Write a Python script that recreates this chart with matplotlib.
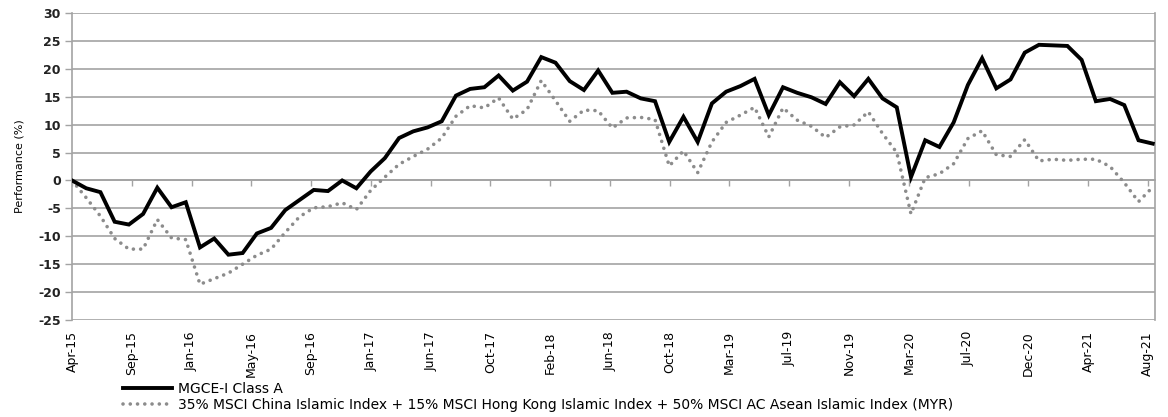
import matplotlib
matplotlib.use("Agg")
import matplotlib.pyplot as plt
import numpy as np

plt.rcParams['axes.unicode_minus'] = False

tick_labels = ['Apr-15', 'Sep-15', 'Jan-16', 'May-16', 'Sep-16', 'Jan-17', 'Jun-17',
               'Oct-17', 'Feb-18', 'Jun-18', 'Oct-18', 'Mar-19', 'Jul-19', 'Nov-19',
               'Mar-20', 'Jul-20', 'Dec-20', 'Apr-21', 'Aug-21']

fund = [0.0, -1.4, -2.1, -7.4, -7.9, -6.0, -1.3, -4.8, -3.9, -12.0,
        -10.4, -13.3, -13.0, -9.5, -8.5, -5.3, -3.5, -1.7, -1.9, 0.0,
        -1.4, 1.6, 4.0, 7.6, 8.8, 9.5, 10.6, 15.2, 16.4, 16.7,
        18.8, 16.1, 17.7, 22.1, 21.1, 17.8, 16.2, 19.7, 15.7, 15.9,
        14.7, 14.2, 6.9, 11.4, 6.9, 13.8, 15.9, 16.9, 18.2, 11.7,
        16.7, 15.7, 14.9, 13.7, 17.6, 15.1, 18.2, 14.7, 13.1, 0.6,
        7.2, 6.0, 10.4, 17.1, 21.9, 16.5, 18.1, 22.9, 24.3, 24.2,
        24.1, 21.6, 14.2, 14.6, 13.5, 7.2, 6.6]

bench = [0.0, -3.1, -6.4, -10.4, -12.3, -12.3, -7.0, -10.3, -10.6, -18.6,
         -17.6, -16.6, -15.0, -13.4, -12.3, -9.3, -6.5, -4.9, -4.7, -4.0,
         -5.2, -1.8, 0.6, 2.9, 4.3, 5.6, 7.6, 11.5, 13.4, 13.0,
         14.8, 11.0, 12.7, 17.9, 14.3, 10.6, 12.6, 12.5, 9.4, 11.2,
         11.3, 10.9, 2.6, 5.3, 1.4, 6.9, 10.4, 11.7, 13.1, 7.8,
         13.0, 10.8, 9.7, 7.7, 9.6, 9.95, 12.3, 8.4, 5.0, -6.0,
         0.5, 1.2, 3.0, 7.5, 8.9, 4.6, 4.3, 7.3, 3.5, 3.8,
         3.6, 3.8, 3.8, 2.5, -0.4, -3.8, -1.2]

fund_label = 'MGCE-I Class A'
bench_label = ('35% MSCI China Islamic Index + 15% MSCI Hong Kong Islamic Index + '
               '50% MSCI AC Asean Islamic Index (MYR)')

x = np.arange(len(fund))

fig = plt.figure(figsize=(11.68, 4.17), dpi=100)
ax = fig.add_axes([72 / 1168, 1 - 320 / 417, (1155 - 72) / 1168, (320 - 13) / 417])

grid_c = '#a3a3a3'
ax.set_ylim(-25, 30)
ax.set_yticks(np.arange(-25, 31, 5))
ax.yaxis.grid(True, color=grid_c, lw=1.2)
ax.set_axisbelow(True)

ax.plot(x, bench, color='#8c8c8c', lw=2.6, linestyle=(0, (0.01, 2.0)),
        dash_capstyle='round', label=bench_label, zorder=3)
ax.plot(x, fund, color='black', lw=2.8, solid_joinstyle='miter', label=fund_label, zorder=4)

ax.set_xlim(0, 76.16)
ticks = np.linspace(0, 75.66, len(tick_labels))
ax.set_xticks(ticks)
ax.tick_params(axis='x', labelbottom=False, direction='out', length=4, color=grid_c, width=1)
ax.tick_params(axis='y', direction='out', length=5, color=grid_c, width=1, pad=3,
               labelsize=9)
for lbl in ax.get_yticklabels():
    lbl.set_fontweight('bold')
    lbl.set_color('#222222')

for s in ['left', 'right', 'top', 'bottom']:
    ax.spines[s].set_color(grid_c)
    ax.spines[s].set_linewidth(1.2)
ax.spines['bottom'].set_position(('data', 0))
ax.spines['top'].set_visible(False)

sec = ax.secondary_xaxis(0.0)
sec.set_xticks(ticks)
sec.set_xticklabels(tick_labels, rotation=90, fontsize=9,
                    family=['Liberation Sans Narrow', 'DejaVu Sans'])
sec.tick_params(length=0, pad=8)
sec.spines['bottom'].set_visible(False)

ax.set_ylabel('Performance (%)', fontsize=8, family=['Liberation Sans Narrow', 'DejaVu Sans'],
              labelpad=10)

fig.legend(handles=ax.get_lines()[::-1], loc='upper left',
           bbox_to_anchor=(123 / 1168, 1 - 382 / 417), frameon=False,
           fontsize=10, handlelength=3.5, handletextpad=0.45, labelspacing=0.15,
           borderpad=0, borderaxespad=0)

fig.savefig('out.png', dpi=100)
